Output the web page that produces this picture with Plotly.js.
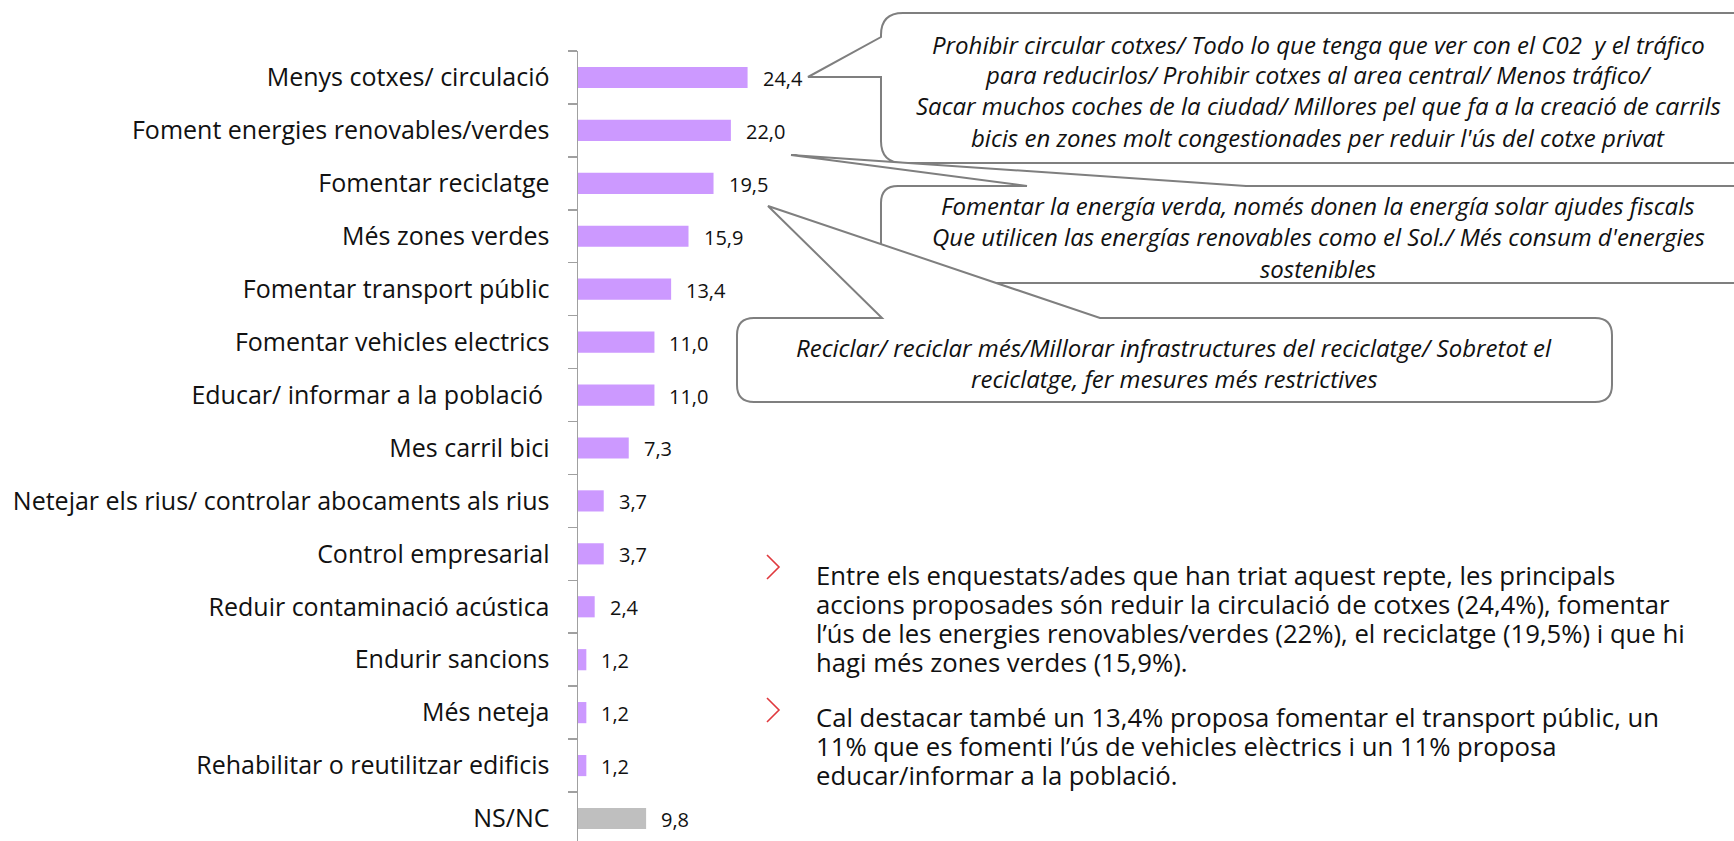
<!DOCTYPE html>
<html>
<head>
<meta charset="utf-8">
<script src="https://cdn.plot.ly/plotly-3.0.1.min.js"></script>
<style>html,body{margin:0;padding:0;background:#fff;}#chart{width:1734px;height:841px;}</style>
</head>
<body>
<div id="chart"></div>
<script>
// ---- data ----
const categories = [
  "Menys cotxes/ circulació",
  "Foment energies renovables/verdes",
  "Fomentar reciclatge",
  "Més zones verdes",
  "Fomentar transport públic",
  "Fomentar vehicles electrics",
  "Educar/ informar a la població\u00a0",
  "Mes carril bici",
  "Netejar els rius/ controlar abocaments als rius",
  "Control empresarial",
  "Reduir contaminació acústica",
  "Endurir sancions",
  "Més neteja",
  "Rehabilitar o reutilitzar edificis",
  "NS/NC"
];
const values = [24.4, 22.0, 19.5, 15.9, 13.4, 11.0, 11.0, 7.3, 3.7, 3.7, 2.4, 1.2, 1.2, 1.2, 9.8];

const callout1Lines = [
  "Prohibir circular cotxes/ Todo lo que tenga que ver con el C02  y el tráfico",
  "para reducirlos/ Prohibir cotxes al area central/ Menos tráfico/",
  "Sacar muchos coches de la ciudad/ Millores pel que fa a la creació de carrils",
  "bicis en zones molt congestionades per reduir l'ús del cotxe privat"
];
const callout2Lines = [
  "Fomentar la energía verda, només donen la energía solar ajudes fiscals",
  "Que utilicen las energías renovables como el Sol./ Més consum d'energies",
  "sostenibles"
];
const callout3Lines = [
  "Reciclar/ reciclar més/Millorar infrastructures del reciclatge/ Sobretot el",
  "reciclatge, fer mesures més restrictives"
];
const bullet1Lines = [
  "Entre els enquestats/ades que han triat aquest repte, les principals",
  "accions proposades són reduir la circulació de cotxes (24,4%), fomentar",
  "l’ús de les energies renovables/verdes (22%), el reciclatge (19,5%) i que hi",
  "hagi més zones verdes (15,9%)."
];
const bullet2Lines = [
  "Cal destacar també un 13,4% proposa fomentar el transport públic, un",
  "11% que es fomenti l’ús de vehicles elèctrics i un 11% proposa",
  "educar/informar a la població."
];

// ---- layout helpers ----
const W = 1734, H = 841;
const FONT = "'Open Sans', 'Noto Sans', sans-serif";
const px = x => x / W;
const py = y => 1 - y / H;
const P = (x, y) => px(x).toFixed(5) + ',' + py(y).toFixed(5);

const PURPLE = '#CC99FF', GREY = '#BFBFBF';
const barColors = categories.map(c => c === 'NS/NC' ? GREY : PURPLE);

const AXIS_X = 578, PLOT_TOP = 51;
const PX_PER_UNIT = 6.95;
const ROW = 52.93;
const plotH = H - PLOT_TOP;
const nRows = plotH / ROW;

const trace = {
  type: 'bar', orientation: 'h',
  x: values, y: categories,
  marker: {color: barColors, line: {width: 0}},
  hoverinfo: 'x+y'
};

function roundedBox(l, t, r, b, rad, pointer) {
  let d = '';
  d += 'M' + P(l + rad, t);
  if (pointer && pointer.side === 'top') {
    d += ' L' + P(pointer.a[0], pointer.a[1]);
    d += ' L' + P(pointer.tip[0], pointer.tip[1]);
    d += ' L' + P(pointer.b[0], pointer.b[1]);
  }
  d += ' L' + P(r - rad, t);
  d += ' Q' + P(r, t) + ' ' + P(r, t + rad);
  d += ' L' + P(r, b - rad);
  d += ' Q' + P(r, b) + ' ' + P(r - rad, b);
  d += ' L' + P(l + rad, b);
  d += ' Q' + P(l, b) + ' ' + P(l, b - rad);
  if (pointer && pointer.side === 'left') {
    d += ' L' + P(pointer.a[0], pointer.a[1]);
    d += ' L' + P(pointer.tip[0], pointer.tip[1]);
    d += ' L' + P(pointer.b[0], pointer.b[1]);
  }
  d += ' L' + P(l, t + rad);
  d += ' Q' + P(l, t) + ' ' + P(l + rad, t);
  d += ' Z';
  return d;
}

const LINEC = '#7F7F7F';
const shapes = [
  {type: 'path', xref: 'paper', yref: 'paper', layer: 'above',
   path: roundedBox(881, 13, 1755, 163, 22, {side: 'left', a: [881, 77], tip: [808, 77], b: [881, 37]}),
   fillcolor: '#FFFFFF', line: {color: LINEC, width: 2}},
  {type: 'path', xref: 'paper', yref: 'paper', layer: 'above',
   path: roundedBox(881, 186, 1755, 283, 17, {side: 'top', a: [1027, 186], tip: [791, 155], b: [1246, 186]}),
   fillcolor: '#FFFFFF', line: {color: LINEC, width: 2}},
  {type: 'path', xref: 'paper', yref: 'paper', layer: 'above',
   path: roundedBox(737, 318, 1612, 402, 17, {side: 'top', a: [882, 318], tip: [768, 206], b: [1100, 318]}),
   fillcolor: '#FFFFFF', line: {color: LINEC, width: 2}},
  {type: 'path', xref: 'paper', yref: 'paper',
   path: 'M' + P(767, 555) + ' L' + P(779, 567) + ' L' + P(767, 579),
   line: {color: '#E0393E', width: 1.6}},
  {type: 'path', xref: 'paper', yref: 'paper',
   path: 'M' + P(767, 698) + ' L' + P(779, 710) + ' L' + P(767, 722),
   line: {color: '#E0393E', width: 1.6}}
];

const annotations = [];
values.forEach((v, i) => {
  annotations.push({
    xref: 'x', yref: 'y', x: v, y: categories[i],
    text: v.toFixed(1).replace('.', ','), showarrow: false,
    xanchor: 'left', yanchor: 'middle', xshift: 13, yshift: -1,
    font: {family: FONT, size: 20, color: '#111'}
  });
});
function addLines(lines, x, ys, opts) {
  lines.forEach((t, i) => {
    annotations.push(Object.assign({
      xref: 'paper', yref: 'paper', x: px(x), y: py(ys[i]),
      text: t, showarrow: false, yanchor: 'middle'
    }, opts));
  });
}
const calloutFont = {family: FONT, size: 24, color: '#111', style: 'italic'};
addLines(callout1Lines, 1318, [44, 75, 106, 137], {xanchor: 'center', font: calloutFont});
addLines(callout2Lines, 1318, [206, 237, 268], {xanchor: 'center', font: calloutFont});
addLines(callout3Lines, 1174, [347, 378], {xanchor: 'center', font: calloutFont});
const bulletFont = {family: FONT, size: 25.7, color: '#111'};
addLines(bullet1Lines, 814, [575, 604, 633, 662], {xanchor: 'left', font: bulletFont});
addLines(bullet2Lines, 814, [717, 746, 775], {xanchor: 'left', font: bulletFont});

const layout = {
  width: W, height: H,
  margin: {l: 0, r: 0, t: 0, b: 0, pad: 0},
  paper_bgcolor: '#FFFFFF', plot_bgcolor: '#FFFFFF',
  showlegend: false,
  bargap: 0.6,
  separators: ',.',
  font: {family: FONT, color: '#111'},
  xaxis: {
    domain: [AXIS_X / W, 1],
    range: [0, (W - AXIS_X) / PX_PER_UNIT],
    visible: false, fixedrange: true
  },
  yaxis: {
    domain: [0, plotH / H],
    type: 'category',
    categoryorder: 'array', categoryarray: categories,
    range: [nRows - 0.5, -0.5], autorange: false,
    showline: true, linecolor: '#A0A0A0', linewidth: 1.5,
    ticks: 'outside', tickson: 'boundaries', ticklen: 9, tickcolor: '#A0A0A0', tickwidth: 1.5,
    showgrid: false, zeroline: false,
    ticklabelstandoff: 22,
    tickfont: {family: FONT, size: 25, color: '#111'},
    automargin: false, fixedrange: true
  },
  shapes: shapes,
  annotations: annotations
};

Plotly.newPlot('chart', [trace], layout, {displayModeBar: false, staticPlot: true});
</script>
</body>
</html>
